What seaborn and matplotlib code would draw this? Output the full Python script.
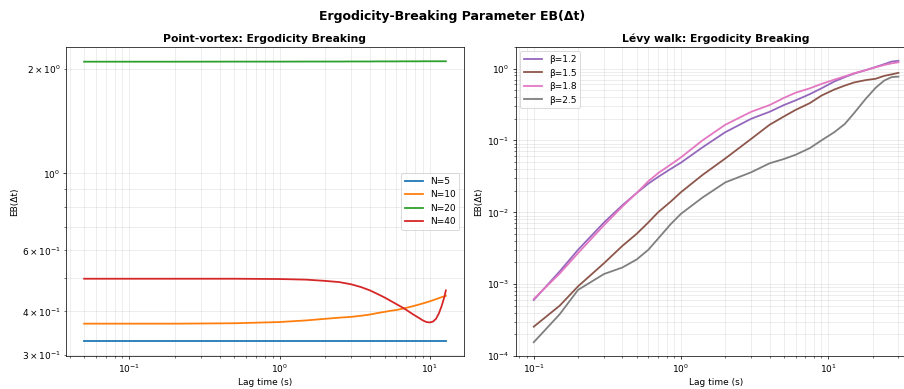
import numpy as np
import pandas as pd
import matplotlib
matplotlib.use("Agg")
import matplotlib.pyplot as plt
import seaborn as sns

# ---- Left panel: point-vortex ----
pv_lag = [0.05, 0.1, 0.2, 0.5, 1.0, 1.5, 2.0, 2.5, 3.0, 3.5, 4.0, 4.5, 5.0, 5.5, 6.0,
          6.5, 7.0, 7.5, 8.0, 8.5, 9.0, 9.5, 10.0, 10.5, 11.0, 11.5, 12.0, 12.5, 12.8]
pv_N5 = [0.329] * 29
pv_N10 = [0.369, 0.369, 0.369, 0.370, 0.373, 0.377, 0.381, 0.384, 0.386, 0.389, 0.392,
          0.396, 0.399, 0.402, 0.404, 0.407, 0.410, 0.413, 0.416, 0.419, 0.422, 0.425,
          0.428, 0.431, 0.434, 0.437, 0.440, 0.442, 0.444]
pv_N20 = [2.094, 2.094, 2.094, 2.095, 2.095, 2.096, 2.096, 2.096, 2.097, 2.097, 2.097,
          2.098, 2.098, 2.098, 2.098, 2.099, 2.099, 2.099, 2.099, 2.099, 2.100, 2.100,
          2.100, 2.100, 2.100, 2.100, 2.100, 2.100, 2.100]
pv_N40 = [0.497, 0.497, 0.497, 0.497, 0.496, 0.494, 0.490, 0.486, 0.479, 0.470, 0.460,
          0.449, 0.439, 0.429, 0.420, 0.412, 0.404, 0.396, 0.389, 0.383, 0.377, 0.373,
          0.372, 0.374, 0.381, 0.395, 0.415, 0.440, 0.460]
pv_labels = ["N=5", "N=10", "N=20", "N=40"]
pv_colors = ["#1f77b4", "#ff7f0e", "#2ca02c", "#d62728"]

# ---- Right panel: Levy walk ----
lw_lag = [0.1, 0.15, 0.2, 0.3, 0.4, 0.5, 0.6, 0.7, 0.85, 1.0, 1.4, 2.0, 3.0, 4.0, 5.0,
          6.0, 7.5, 9.0, 11.0, 13.0, 15.0, 18.0, 21.0, 24.0, 27.0, 30.0]
lw_b12 = [6.0e-4, 1.5e-3, 3.0e-3, 7.2e-3, 1.25e-2, 1.85e-2, 2.5e-2, 3.1e-2, 4.0e-2, 4.9e-2,
          8.0e-2, 0.13, 0.20, 0.25, 0.31, 0.36, 0.44, 0.53, 0.66, 0.76, 0.85, 0.95,
          1.05, 1.15, 1.25, 1.28]
lw_b15 = [2.55e-4, 5.0e-4, 9.3e-4, 1.95e-3, 3.4e-3, 5.0e-3, 7.2e-3, 1.0e-2, 1.4e-2, 1.9e-2,
          3.3e-2, 5.6e-2, 0.105, 0.165, 0.215, 0.265, 0.33, 0.42, 0.51, 0.58, 0.64, 0.69,
          0.72, 0.79, 0.83, 0.87]
lw_b18 = [6.2e-4, 1.4e-3, 2.7e-3, 6.6e-3, 1.2e-2, 1.85e-2, 2.7e-2, 3.5e-2, 4.6e-2, 5.8e-2,
          0.10, 0.165, 0.25, 0.31, 0.39, 0.46, 0.53, 0.61, 0.70, 0.78, 0.86, 0.95,
          1.04, 1.12, 1.18, 1.22]
lw_b25 = [1.55e-4, 3.8e-4, 8.3e-4, 1.38e-3, 1.7e-3, 2.2e-3, 3.0e-3, 4.3e-3, 6.8e-3, 9.5e-3,
          1.6e-2, 2.6e-2, 3.6e-2, 4.8e-2, 5.5e-2, 6.3e-2, 7.8e-2, 0.10, 0.13, 0.17, 0.24,
          0.38, 0.54, 0.68, 0.76, 0.77]
lw_labels = ["β=1.2", "β=1.5", "β=1.8", "β=2.5"]
lw_colors = ["#9467bd", "#8c564b", "#e377c2", "#7f7f7f"]

pv_df = pd.concat([pd.DataFrame({"lag": pv_lag, "eb": v, "series": l})
                   for v, l in zip([pv_N5, pv_N10, pv_N20, pv_N40], pv_labels)])
lw_df = pd.concat([pd.DataFrame({"lag": lw_lag, "eb": v, "series": l})
                   for v, l in zip([lw_b12, lw_b15, lw_b18, lw_b25], lw_labels)])

fig = plt.figure(figsize=(14, 6.025), dpi=64.6)
ax1 = fig.add_axes([0.073, 0.085, 0.440, 0.794])
ax2 = fig.add_axes([0.570, 0.085, 0.4436, 0.794])

sns.lineplot(data=pv_df, x="lag", y="eb", hue="series", hue_order=pv_labels,
             palette=dict(zip(pv_labels, pv_colors)), linewidth=2, ax=ax1)
sns.lineplot(data=lw_df, x="lag", y="eb", hue="series", hue_order=lw_labels,
             palette=dict(zip(lw_labels, lw_colors)), linewidth=2, ax=ax2)

for ax in (ax1, ax2):
    ax.set_xscale("log")
    ax.set_yscale("log")
    ax.grid(True, which="both", alpha=0.3)
    ax.set_xlabel("Lag time (s)")
    ax.set_ylabel("EB(Δt)")

ax1.set_ylim(0.298, 2.31)
ax2.set_ylim(1e-4, 2)

ax1.set_title("Point-vortex: Ergodicity Breaking", fontsize=12, fontweight="bold")
ax2.set_title("Lévy walk: Ergodicity Breaking", fontsize=12, fontweight="bold")
ax1.legend(loc="center right", title=None)
ax2.legend(loc="upper left", title=None)

fig.suptitle("Ergodicity-Breaking Parameter EB(Δt)", fontsize=14, fontweight="bold", y=0.975)

fig.savefig("out.png", dpi=64.6)
